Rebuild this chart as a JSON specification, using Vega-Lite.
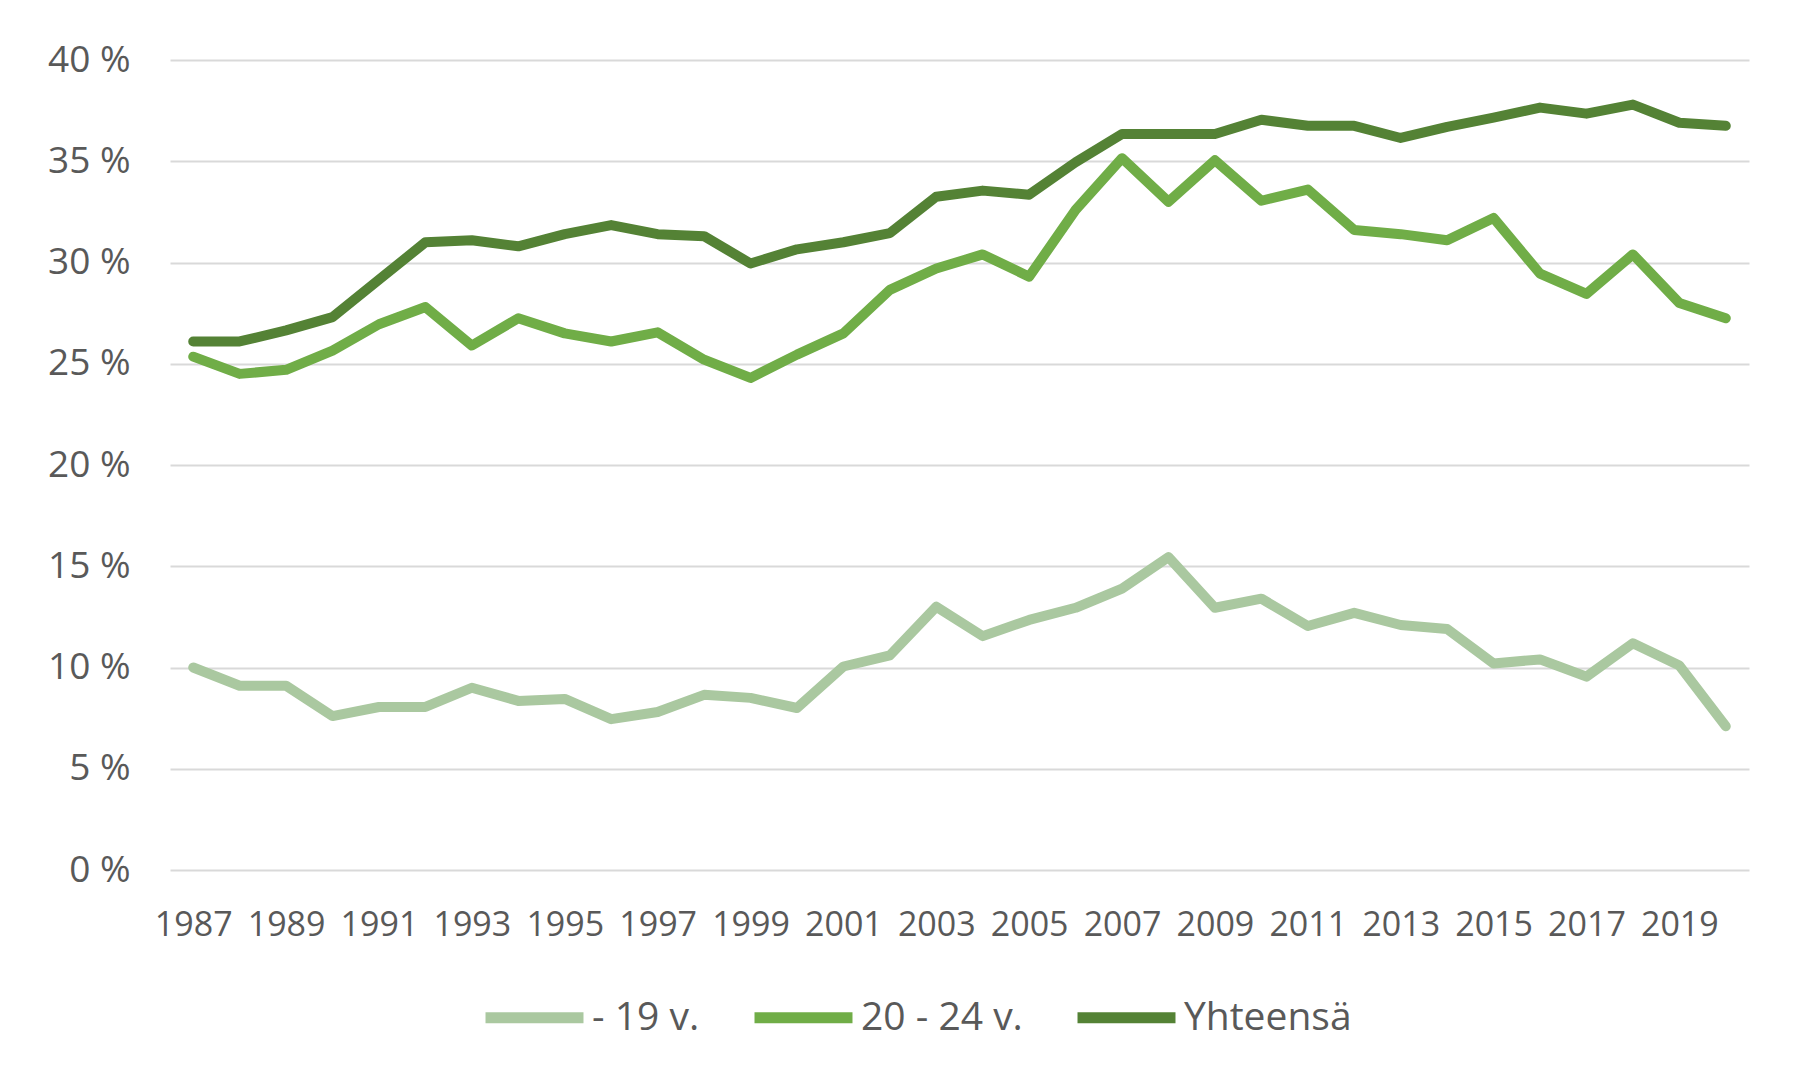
{
  "$schema": "https://vega.github.io/schema/vega-lite/v6.json",
  "width": 1579,
  "height": 810,
  "autosize": {"type": "none"},
  "padding": {"left": 170, "top": 60, "right": 58, "bottom": 215},
  "background": "white",
  "config": {
    "view": {"stroke": null},
    "font": "Open Sans",
    "axis": {"labelFont": "Open Sans", "labelColor": "#595959", "gridColor": "#d9d9d9", "gridWidth": 2, "domain": false, "ticks": false, "title": null}
  },
  "data": {
    "values": [
      {"year": 1987, "group": "- 19 v.", "value": 10.0},
      {"year": 1988, "group": "- 19 v.", "value": 9.1},
      {"year": 1989, "group": "- 19 v.", "value": 9.1},
      {"year": 1990, "group": "- 19 v.", "value": 7.6},
      {"year": 1991, "group": "- 19 v.", "value": 8.05},
      {"year": 1992, "group": "- 19 v.", "value": 8.05},
      {"year": 1993, "group": "- 19 v.", "value": 9.0},
      {"year": 1994, "group": "- 19 v.", "value": 8.35},
      {"year": 1995, "group": "- 19 v.", "value": 8.45},
      {"year": 1996, "group": "- 19 v.", "value": 7.45},
      {"year": 1997, "group": "- 19 v.", "value": 7.8},
      {"year": 1998, "group": "- 19 v.", "value": 8.65},
      {"year": 1999, "group": "- 19 v.", "value": 8.5},
      {"year": 2000, "group": "- 19 v.", "value": 8.0},
      {"year": 2001, "group": "- 19 v.", "value": 10.05},
      {"year": 2002, "group": "- 19 v.", "value": 10.6},
      {"year": 2003, "group": "- 19 v.", "value": 13.0},
      {"year": 2004, "group": "- 19 v.", "value": 11.55},
      {"year": 2005, "group": "- 19 v.", "value": 12.35},
      {"year": 2006, "group": "- 19 v.", "value": 12.95},
      {"year": 2007, "group": "- 19 v.", "value": 13.9},
      {"year": 2008, "group": "- 19 v.", "value": 15.45},
      {"year": 2009, "group": "- 19 v.", "value": 12.95},
      {"year": 2010, "group": "- 19 v.", "value": 13.4},
      {"year": 2011, "group": "- 19 v.", "value": 12.05},
      {"year": 2012, "group": "- 19 v.", "value": 12.7},
      {"year": 2013, "group": "- 19 v.", "value": 12.1},
      {"year": 2014, "group": "- 19 v.", "value": 11.9},
      {"year": 2015, "group": "- 19 v.", "value": 10.2},
      {"year": 2016, "group": "- 19 v.", "value": 10.4},
      {"year": 2017, "group": "- 19 v.", "value": 9.55},
      {"year": 2018, "group": "- 19 v.", "value": 11.2},
      {"year": 2019, "group": "- 19 v.", "value": 10.1},
      {"year": 2020, "group": "- 19 v.", "value": 7.1},
      {"year": 1987, "group": "20 - 24 v.", "value": 25.35},
      {"year": 1988, "group": "20 - 24 v.", "value": 24.5},
      {"year": 1989, "group": "20 - 24 v.", "value": 24.7},
      {"year": 1990, "group": "20 - 24 v.", "value": 25.65},
      {"year": 1991, "group": "20 - 24 v.", "value": 26.95},
      {"year": 1992, "group": "20 - 24 v.", "value": 27.8},
      {"year": 1993, "group": "20 - 24 v.", "value": 25.9},
      {"year": 1994, "group": "20 - 24 v.", "value": 27.25},
      {"year": 1995, "group": "20 - 24 v.", "value": 26.5},
      {"year": 1996, "group": "20 - 24 v.", "value": 26.1},
      {"year": 1997, "group": "20 - 24 v.", "value": 26.55},
      {"year": 1998, "group": "20 - 24 v.", "value": 25.2},
      {"year": 1999, "group": "20 - 24 v.", "value": 24.3},
      {"year": 2000, "group": "20 - 24 v.", "value": 25.45},
      {"year": 2001, "group": "20 - 24 v.", "value": 26.5},
      {"year": 2002, "group": "20 - 24 v.", "value": 28.65},
      {"year": 2003, "group": "20 - 24 v.", "value": 29.7},
      {"year": 2004, "group": "20 - 24 v.", "value": 30.4},
      {"year": 2005, "group": "20 - 24 v.", "value": 29.3},
      {"year": 2006, "group": "20 - 24 v.", "value": 32.6},
      {"year": 2007, "group": "20 - 24 v.", "value": 35.15},
      {"year": 2008, "group": "20 - 24 v.", "value": 33.0},
      {"year": 2009, "group": "20 - 24 v.", "value": 35.05},
      {"year": 2010, "group": "20 - 24 v.", "value": 33.05},
      {"year": 2011, "group": "20 - 24 v.", "value": 33.6},
      {"year": 2012, "group": "20 - 24 v.", "value": 31.6},
      {"year": 2013, "group": "20 - 24 v.", "value": 31.4},
      {"year": 2014, "group": "20 - 24 v.", "value": 31.1},
      {"year": 2015, "group": "20 - 24 v.", "value": 32.2},
      {"year": 2016, "group": "20 - 24 v.", "value": 29.45},
      {"year": 2017, "group": "20 - 24 v.", "value": 28.45},
      {"year": 2018, "group": "20 - 24 v.", "value": 30.4},
      {"year": 2019, "group": "20 - 24 v.", "value": 28.0},
      {"year": 2020, "group": "20 - 24 v.", "value": 27.25},
      {"year": 1987, "group": "Yhteensä", "value": 26.1},
      {"year": 1988, "group": "Yhteensä", "value": 26.1},
      {"year": 1989, "group": "Yhteensä", "value": 26.65},
      {"year": 1990, "group": "Yhteensä", "value": 27.3},
      {"year": 1991, "group": "Yhteensä", "value": 29.15},
      {"year": 1992, "group": "Yhteensä", "value": 31.0},
      {"year": 1993, "group": "Yhteensä", "value": 31.1},
      {"year": 1994, "group": "Yhteensä", "value": 30.8},
      {"year": 1995, "group": "Yhteensä", "value": 31.4},
      {"year": 1996, "group": "Yhteensä", "value": 31.85},
      {"year": 1997, "group": "Yhteensä", "value": 31.4},
      {"year": 1998, "group": "Yhteensä", "value": 31.3},
      {"year": 1999, "group": "Yhteensä", "value": 29.95},
      {"year": 2000, "group": "Yhteensä", "value": 30.65},
      {"year": 2001, "group": "Yhteensä", "value": 31.0},
      {"year": 2002, "group": "Yhteensä", "value": 31.45},
      {"year": 2003, "group": "Yhteensä", "value": 33.25},
      {"year": 2004, "group": "Yhteensä", "value": 33.55},
      {"year": 2005, "group": "Yhteensä", "value": 33.35},
      {"year": 2006, "group": "Yhteensä", "value": 34.95},
      {"year": 2007, "group": "Yhteensä", "value": 36.35},
      {"year": 2008, "group": "Yhteensä", "value": 36.35},
      {"year": 2009, "group": "Yhteensä", "value": 36.35},
      {"year": 2010, "group": "Yhteensä", "value": 37.05},
      {"year": 2011, "group": "Yhteensä", "value": 36.75},
      {"year": 2012, "group": "Yhteensä", "value": 36.75},
      {"year": 2013, "group": "Yhteensä", "value": 36.15},
      {"year": 2014, "group": "Yhteensä", "value": 36.7},
      {"year": 2015, "group": "Yhteensä", "value": 37.15},
      {"year": 2016, "group": "Yhteensä", "value": 37.65},
      {"year": 2017, "group": "Yhteensä", "value": 37.35},
      {"year": 2018, "group": "Yhteensä", "value": 37.8},
      {"year": 2019, "group": "Yhteensä", "value": 36.9},
      {"year": 2020, "group": "Yhteensä", "value": 36.75}
    ]
  },
  "mark": {"type": "line", "strokeWidth": 10, "strokeCap": "round", "strokeJoin": "round"},
  "encoding": {
    "x": {
      "field": "year",
      "type": "ordinal",
      "scale": {"type": "point", "padding": 0.5},
      "axis": {
        "values": [1987, 1989, 1991, 1993, 1995, 1997, 1999, 2001, 2003, 2005, 2007, 2009, 2011, 2013, 2015, 2017, 2019],
        "labelAngle": 0,
        "labelFontSize": 34,
        "labelPadding": 38,
        "labelBaseline": "top",
        "grid": false
      }
    },
    "y": {
      "field": "value",
      "type": "quantitative",
      "scale": {"domain": [0, 40], "nice": false},
      "axis": {
        "values": [0, 5, 10, 15, 20, 25, 30, 35, 40],
        "labelExpr": "datum.value + ' %'",
        "labelFontSize": 37,
        "labelPadding": 40,
        "grid": true
      }
    },
    "color": {
      "field": "group",
      "type": "nominal",
      "scale": {"domain": ["- 19 v.", "20 - 24 v.", "Yhteensä"], "range": ["#aac8a0", "#70ad47", "#548235"]},
      "legend": {
        "title": null,
        "orient": "none",
        "direction": "horizontal",
        "legendX": 310,
        "legendY": 903,
        "symbolType": "stroke",
        "symbolSize": 9600,
        "symbolStrokeWidth": 11,
        "labelFontSize": 39,
        "labelLimit": 500,
        "labelColor": "#595959",
        "labelFont": "Open Sans",
        "labelOffset": 3,
        "columnPadding": 32
      }
    }
  }
}
